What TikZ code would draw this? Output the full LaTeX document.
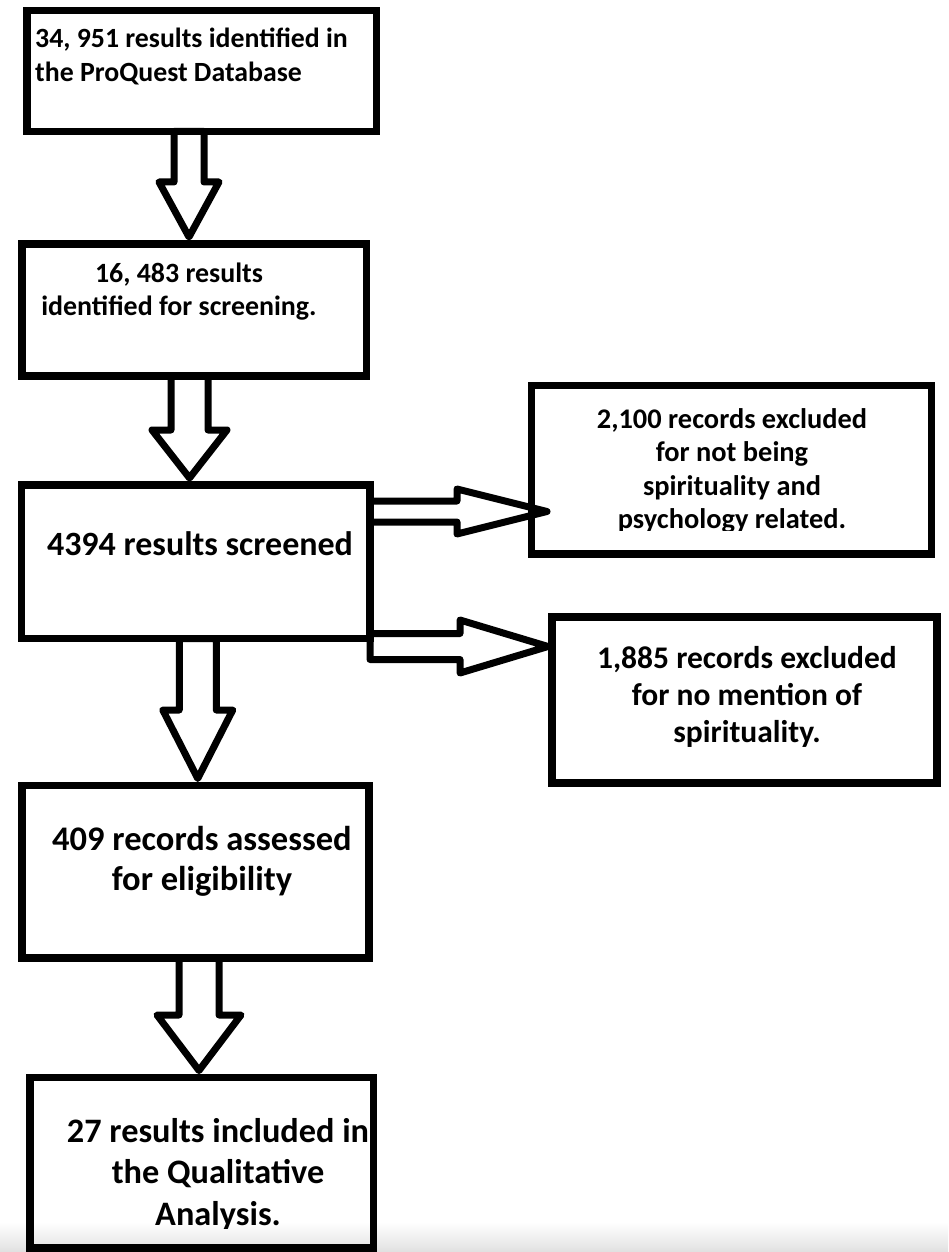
\documentclass[tikz,border=0pt]{standalone}
\usepackage{fontspec}
\setmainfont{Carlito}
\usepackage{tikz}
\usetikzlibrary{calc}

% hollow block arrows: down from one box to the next, right to a tip point
\newcommand{\blkdown}[6]{%
  \draw[blk] let \p1=($(#1.south)+(#3,0)$), \p2=(#2.north) in
    (\x1-#4pt,\y1) -- (\x1-#4pt,\y2+7pt+#6pt) -- (\x1-#5pt,\y2+7pt+#6pt)
    -- (\x1,\y2+7pt) -- (\x1+#5pt,\y2+7pt+#6pt) -- (\x1+#4pt,\y2+7pt+#6pt)
    -- (\x1+#4pt,\y1) -- cycle;}
\newcommand{\blkright}[5]{%
  \draw[blk] let \p1=(#1.east), \p2=(#2) in
    (\x1,\y2+#3pt) -- (\x2-#5pt,\y2+#3pt) -- (\x2-#5pt,\y2+#4pt) -- (\x2,\y2)
    -- (\x2-#5pt,\y2-#4pt) -- (\x2-#5pt,\y2-#3pt) -- (\x1,\y2-#3pt) -- cycle;}

\begin{document}
\begin{tikzpicture}[x=1pt, y=-1pt,
  box/.style = {draw, line width=7.5pt, inner sep=0pt, outer sep=0pt},
  blk/.style = {draw, line width=7pt, line join=round},
  txt/.style = {inner sep=0pt, font=\bfseries}]
\useasboundingbox (0,0) rectangle (948,1252);

% screenshot shadow at the bottom
\shade[top color=white, bottom color=black!12] (0,1222) rectangle (948,1252);

\node[box, minimum width=349.5, minimum height=121] (b1) at (201.75,71) {};
\node[box, minimum width=344.5, minimum height=132] (b2) at (194.25,310) {};
\node[box, minimum width=348.5, minimum height=153.5] (b3) at (195.75,561.75) {};
\node[box, minimum width=400, minimum height=168.5] (b4) at (731.5,469.75) {};
\node[box, minimum width=385, minimum height=166] (b5) at (744.5,700) {};
\node[box, minimum width=347, minimum height=172.5] (b6) at (195.5,871.75) {};
\node[box, minimum width=343.5, minimum height=170.5] (b7) at (201.75,1162.75) {};

\node[txt, anchor=north west, align=left, font=\bfseries\fontsize{27.8}{34}\selectfont] (t1) at (35,23.2)
  {\strut 34, 951 results identified in\\the ProQuest Database};
\node[txt, anchor=north, align=center, font=\bfseries\fontsize{27.9}{33}\selectfont] (t2) at (179,258.9)
  {\strut 16, 483 results\\identified for screening.};
\node[txt, anchor=base, font=\bfseries\fontsize{34}{40}\selectfont] (t3) at (200,555)
  {4394 results screened};
\begin{scope}
\clip (520,380) rectangle (948,530);
\node[txt, anchor=north, align=center, font=\bfseries\fontsize{28.4}{33.5}\selectfont] (t4) at (732,404.55)
  {\strut 2,100 records excluded\\for not being\\spirituality and\\psychology related.};
\end{scope}
\node[txt, anchor=north, align=center, font=\bfseries\fontsize{31.5}{37}\selectfont] (t5) at (747,642.1)
  {\strut 1,885 records excluded\\for no mention of\\spirituality.};
\node[txt, anchor=north, align=center, font=\bfseries\fontsize{34.5}{40}\selectfont] (t6) at (202,822)
  {\strut 409 records assessed\\for eligibility};
\begin{scope}
\clip (0,1060) rectangle (948,1228);
\node[txt, anchor=north, align=center, font=\bfseries\fontsize{34.3}{41.5}\selectfont] (t7) at (218,1112.95)
  {\strut 27 results included in\\the Qualitative\\Analysis.};
\end{scope}

\path (b4.west) ++(15.5,41.75) coordinate (tip4);
\path (b5.west) ++(-4,-53.5) coordinate (tip5);

\blkdown{b1}{b2}{-12.75}{15}{30}{55}
\blkdown{b2}{b3}{-4.75}{18.5}{37.5}{48}
\blkdown{b3}{b6}{2}{18.5}{35}{68.5}
\blkdown{b6}{b7}{3.5}{20}{42}{55.5}
\blkright{b3}{tip4}{10.5}{22.5}{90}
\blkright{b3}{tip5}{13}{26.5}{88}
\end{tikzpicture}
\end{document}
